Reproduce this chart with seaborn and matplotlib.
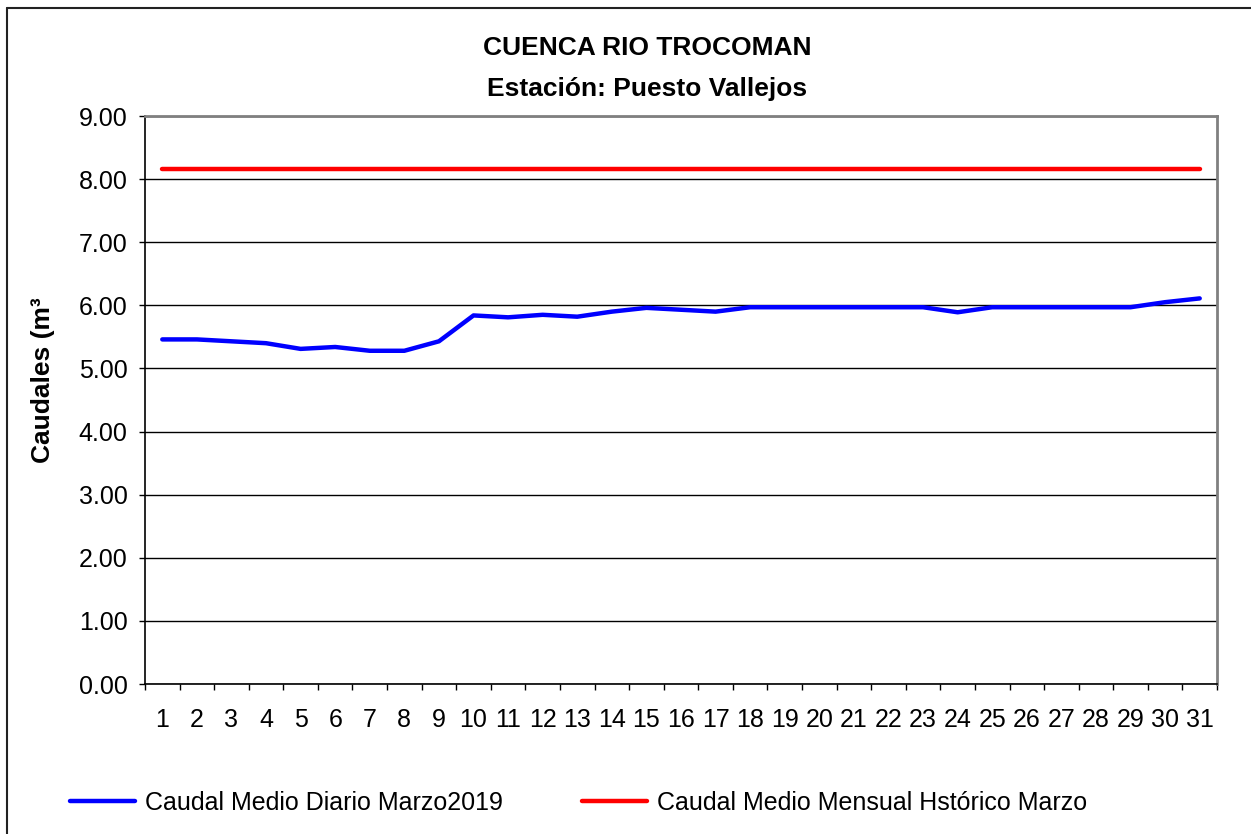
import numpy as np
import pandas as pd
import matplotlib
matplotlib.use("Agg")
import matplotlib.pyplot as plt
from matplotlib.lines import Line2D
from matplotlib.ticker import FixedLocator, FormatStrFormatter
import seaborn as sns

# ---- data ----
dias = list(range(1, 32))
caudal_diario = [5.46, 5.46, 5.43, 5.40, 5.31, 5.34, 5.28, 5.28, 5.43, 5.84,
                 5.81, 5.85, 5.82, 5.90, 5.96, 5.93, 5.90, 5.97, 5.97, 5.97,
                 5.97, 5.97, 5.97, 5.89, 5.97, 5.97, 5.97, 5.97, 5.97, 6.05, 6.11]
caudal_historico = [8.16] * 31
serie_diaria = "Caudal Medio Diario Marzo2019"
serie_historica = "Caudal Medio Mensual Hstórico Marzo"
titulo1 = "CUENCA RIO TROCOMAN"
titulo2 = "Estación: Puesto Vallejos"
ylabel = "Caudales (m³"
yticks = [0, 1, 2, 3, 4, 5, 6, 7, 8, 9]

df = pd.DataFrame({
    "dia": dias + dias,
    "caudal": caudal_diario + caudal_historico,
    "serie": [serie_diaria] * 31 + [serie_historica] * 31,
})

sns.set_style("white")
plt.rcParams["font.family"] = ["Liberation Sans", "DejaVu Sans"]
plt.rcParams["text.color"] = "black"
plt.rcParams["xtick.color"] = "black"
plt.rcParams["ytick.color"] = "black"
plt.rcParams["axes.labelcolor"] = "black"

fig = plt.figure(figsize=(12.51, 8.34), dpi=100)
W, H = 1251, 834
ax = fig.add_axes([145 / W, 1 - 684 / H, (1217 - 145) / W, (684 - 116) / H])

sns.lineplot(data=df, x="dia", y="caudal", hue="serie",
             palette={serie_diaria: "#0000FF", serie_historica: "#FF0000"},
             linewidth=3.2, ax=ax, legend=False, zorder=3)

ax.set_xlim(0.5, 31.5)
ax.set_ylim(0, 9)
ax.set_xlabel("")
ax.set_ylabel("")

# y axis
ax.yaxis.set_major_locator(FixedLocator(yticks))
ax.yaxis.set_major_formatter(FormatStrFormatter("%.2f"))
ax.tick_params(axis="y", which="major", direction="out", length=4.5, width=1,
               color="black", labelcolor="black", pad=8, labelsize=18, left=True)
ax.grid(axis="y", color="black", linewidth=1.0, zorder=1)
ax.set_axisbelow(True)

# x axis: labels at days, ticks between days
ax.set_xticks(dias)
ax.set_xticklabels([str(d) for d in dias])
ax.set_xticks(np.arange(0.5, 32, 1.0), minor=True)
ax.tick_params(axis="x", which="major", length=0, pad=17, labelsize=18,
               labelcolor="black")
ax.tick_params(axis="x", which="minor", direction="out", length=4.5, width=1,
               color="black", bottom=True)

for s in ["left", "bottom"]:
    ax.spines[s].set_color("black")
    ax.spines[s].set_linewidth(1.2)
for s in ["top", "right"]:
    ax.spines[s].set_color("#808080")
    ax.spines[s].set_linewidth(2.0)

# titles
fig.text(647 / W, 1 - 48 / H, titulo1, ha="center", va="center",
         fontsize=19, fontweight="bold", color="black")
fig.text(647 / W, 1 - 89 / H, titulo2, ha="center", va="center",
         fontsize=19, fontweight="bold", color="black")
fig.text(43 / W, 1 - 380 / H, ylabel, ha="center", va="center",
         rotation=90, fontsize=19, fontweight="bold", color="black")

# legend
handles = [Line2D([], [], color="#0000FF", lw=3.2),
           Line2D([], [], color="#FF0000", lw=3.2)]
fig.legend(handles, [serie_diaria, serie_historica], ncol=2, frameon=False,
           loc="center left", bbox_to_anchor=(70 / W, 1 - 803 / H),
           borderpad=0, borderaxespad=0, handlelength=2.6,
           handletextpad=0.4, columnspacing=3.15, fontsize=18,
           labelcolor="black")

# outer chart border (top and left visible)
fig.add_artist(Line2D([7 / W, 1.0], [1 - 8 / H, 1 - 8 / H],
                      transform=fig.transFigure, color="#222222", lw=1.5))
fig.add_artist(Line2D([7 / W, 7 / W], [0, 1 - 8 / H],
                      transform=fig.transFigure, color="#222222", lw=1.5))

fig.savefig("out.png", dpi=100, facecolor="white")
